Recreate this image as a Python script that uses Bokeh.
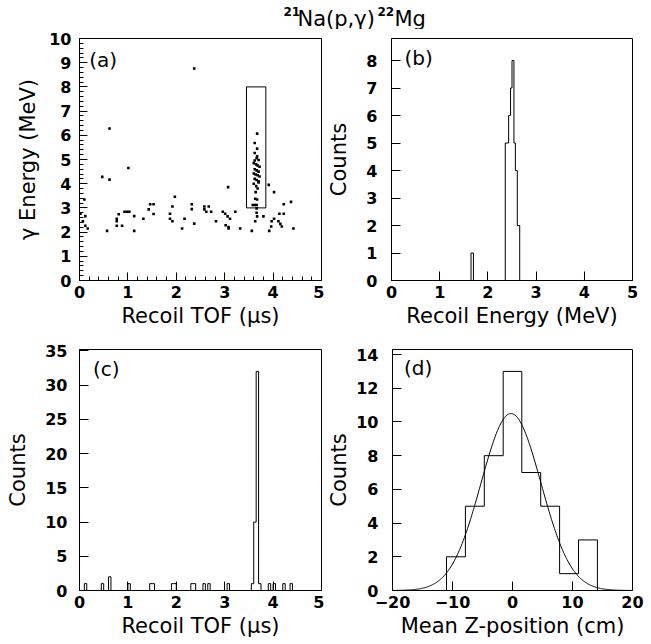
import numpy as np
from bokeh.plotting import figure
from bokeh.layouts import column, row
from bokeh.models import Range1d, SingleIntervalTicker, Label
from bokeh.core.properties import value
from bokeh.embed import file_html
from bokeh.resources import INLINE

# ---------------- data ----------------
# title pieces: (text, is_superscript)
title_parts = [("21", True), ("Na(p,γ)", False), ("22", True), ("Mg", False)]

# (a) gamma energy vs recoil TOF
a_tof = [2.37, 0.62, 1.01, 0.47, 0.62, 3.91, 4.02, 3.07, 1.97, 0.10,
         2.32, 2.32, 1.46, 1.53, 1.43, 1.92, 2.58, 2.67, 2.58, 2.62,
         2.72, 1.53, 4.22, 4.37, 0.02, 0.12, 0.81, 0.93, 0.98, 1.03,
         1.13, 1.32, 0.77, 0.77, 1.87, 1.87, 1.92, 2.17, 2.37, 2.12,
         0.77, 0.88, 0.57, 1.13, 0.12, 0.17, 0.07, 2.96, 3.01, 3.06,
         3.11, 3.22, 2.82, 3.02, 3.08, 3.08, 3.32, 3.56, 3.63, 3.67,
         3.80, 3.92, 3.96, 3.97, 4.02, 4.13, 4.22, 4.11, 4.15, 4.18,
         4.42, 3.66, 3.66,
         3.67, 3.62, 3.67, 3.62, 3.67, 3.62, 3.66, 3.70, 3.60, 3.65,
         3.68, 3.72, 3.62, 3.66, 3.70, 3.60, 3.64, 3.68, 3.72, 3.62,
         3.66, 3.70, 3.60, 3.65, 3.68, 3.63, 3.58, 3.62, 3.66, 3.67,
         3.70, 3.64]
a_egamma = [8.76, 6.28, 4.65, 4.28, 4.17, 3.95, 3.65, 3.86, 3.46, 3.35,
            3.15, 2.95, 3.15, 3.15, 2.94, 3.06, 3.06, 3.06, 2.94, 2.84,
            2.84, 2.75, 3.15, 3.25, 2.76, 2.66, 2.74, 2.84, 2.84, 2.84,
            2.66, 2.55, 2.55, 2.26, 2.76, 2.55, 2.45, 2.55, 2.35, 2.15,
            2.45, 2.26, 2.05, 2.05, 2.26, 2.15, 2.45, 2.84, 2.76, 2.65,
            2.55, 2.84, 2.45, 2.28, 2.21, 2.15, 2.15, 2.05, 2.45, 2.65,
            2.65, 2.05, 2.23, 2.45, 2.55, 2.76, 2.76, 2.45, 2.34, 2.23,
            2.15, 2.98, 2.80,
            6.07, 5.68, 5.45, 5.27, 5.13, 4.96, 5.05, 4.98, 4.85, 4.80,
            4.75, 4.70, 4.60, 4.55, 4.50, 4.42, 4.38, 4.35, 4.30, 4.20,
            4.15, 4.10, 4.00, 3.90, 3.80, 3.38, 3.12, 3.12, 3.12, 3.35,
            4.05, 3.65]
gate_tof = [3.45, 3.85]
gate_egamma = [3.0, 8.0]

# (b) recoil energy histogram (bin edges in MeV, counts)
b_edges = [1.65, 1.70, 2.36, 2.43, 2.47, 2.50, 2.54, 2.57, 2.61, 2.66]
b_counts = [1, 0, 5, 6, 7, 8, 5, 4, 2]

# (c) recoil TOF histogram: 0.05 us bins, non-empty bins only
c_bin_width = 0.05
c_bin_left = [0.10, 0.45, 0.60, 1.00, 1.45, 1.50, 1.90, 1.95, 2.30, 2.35,
              2.55, 2.65, 3.05, 3.55, 3.60, 3.65, 3.70, 3.90, 4.00, 4.20, 4.35]
c_counts = [1, 1, 2, 1, 1, 1, 1, 1, 1, 1,
            1, 1, 1, 1, 10, 32, 1, 1, 1, 1, 1]

# (d) mean Z-position histogram + gaussian fit
d_edges = [-11.0, -7.85, -4.7, -1.55, 1.55, 4.7, 7.85, 11.0, 14.15]
d_counts = [2, 5, 8, 13, 7, 5, 1, 3]
fit_amp, fit_mean, fit_sigma = 10.5, -0.25, 5.0

# ---------------- styling helpers ----------------
FONT = "DejaVu Sans"


def make_fig(w, h, xr, yr, left, right, top, bottom, xlabel, ylabel):
    p = figure(width=w, height=h, x_range=Range1d(*xr), y_range=Range1d(*yr),
               toolbar_location=None, output_backend="svg",
               min_border_left=left, min_border_right=right,
               min_border_top=top, min_border_bottom=bottom)
    p.grid.visible = False
    p.outline_line_color = "black"
    p.outline_line_width = 1
    p.background_fill_color = "white"
    p.border_fill_color = "white"
    p.xaxis.axis_label = xlabel
    p.yaxis.axis_label = ylabel
    for ax in (p.xaxis[0], p.yaxis[0]):
        ax.axis_line_color = "black"
        ax.major_tick_in = 9
        ax.major_tick_out = 0
        ax.minor_tick_in = 0
        ax.minor_tick_out = 0
        ax.major_tick_line_color = "black"
        ax.minor_tick_line_color = "black"
        ax.major_label_text_font = FONT
        ax.major_label_text_font_style = "bold"
        ax.major_label_text_font_size = "16px"
        ax.major_label_text_color = "black"
        ax.axis_label_text_font = FONT
        ax.axis_label_text_font_style = "normal"
        ax.axis_label_text_font_size = "21px"
        ax.axis_label_text_color = "black"
    p.xaxis.major_label_standoff = 5
    p.xaxis.axis_label_standoff = 3
    return p


def step_xy(edges, counts):
    xs = [edges[0]] + list(edges)
    ys = [0] + list(counts) + [0]
    return xs, ys


def panel_tag(p, x, y, txt):
    p.text(x=[x], y=[y], text=[txt], text_font=value(FONT),
           text_font_size="20px", text_baseline="middle", text_align="left",
           text_color="black")


# ---------------- title ----------------
TH = 29
pt = figure(width=651, height=TH, x_range=Range1d(0, 651), y_range=Range1d(0, TH),
            toolbar_location=None, output_backend="svg",
            x_axis_location=None, y_axis_location=None,
            min_border=0, min_border_left=0, min_border_right=0,
            min_border_top=0, min_border_bottom=0, title=None)
pt.grid.visible = False
pt.outline_line_color = None
pt.background_fill_color = "white"
pt.border_fill_color = "white"
title_x = [283, 297, 377, 394]
for (txt, sup), tx in zip(title_parts, title_x):
    pt.add_layout(Label(x=tx, y=18 if sup else 11, text=txt, text_font=FONT,
                        text_font_size="12px" if sup else "21px",
                        text_font_style="bold" if sup else "normal",
                        text_align="left", text_baseline="alphabetic",
                        text_color="black"))

# ---------------- (a) ----------------
ROW1_H = 644 - TH - 309
pa = make_fig(324, ROW1_H, (0, 5), (0, 10), 79, 3, 9, 55,
              "Recoil TOF (μs)", "γ Energy (MeV)")
pa.xaxis.ticker = SingleIntervalTicker(interval=1, num_minor_ticks=5)
pa.yaxis.ticker = SingleIntervalTicker(interval=1, num_minor_ticks=5)
pa.xaxis.minor_tick_in = 4
pa.yaxis.minor_tick_in = 4
pa.xaxis.major_tick_in = 8
pa.yaxis.major_tick_in = 8
pa.yaxis.major_label_standoff = 8
pa.yaxis.axis_label_standoff = 6
pa.scatter(a_tof, a_egamma, marker="square", size=2.6, fill_color="black",
           line_color=None)
pa.quad(left=[gate_tof[0]], right=[gate_tof[1]], bottom=[gate_egamma[0]],
        top=[gate_egamma[1]], fill_color=None, line_color="black", line_width=1)
panel_tag(pa, 0.2, 9.1, "(a)")

# ---------------- (b) ----------------
pb = make_fig(327, ROW1_H, (0, 5), (0, 8.8), 66, 19, 9, 55,
              "Recoil Energy (MeV)", "Counts")
pb.xaxis.ticker = SingleIntervalTicker(interval=1, num_minor_ticks=0)
pb.yaxis.ticker = SingleIntervalTicker(interval=1, num_minor_ticks=0)
pb.yaxis.major_label_standoff = 14
pb.yaxis.axis_label_standoff = 12
bx, by = step_xy(b_edges, b_counts)
pb.step(bx, by, mode="after", line_color="black", line_width=1)
panel_tag(pb, 0.27, 8.1, "(b)")

# ---------------- (c) ----------------
nbins = int(round(5 / c_bin_width))
c_full = np.zeros(nbins)
for left_edge, cnt in zip(c_bin_left, c_counts):
    c_full[int(round(left_edge / c_bin_width))] = cnt
c_edges = np.arange(nbins + 1) * c_bin_width

pc = make_fig(324, 309, (0, 5), (0, 35.2), 79, 3, 14, 54,
              "Recoil TOF (μs)", "Counts")
pc.xaxis.ticker = SingleIntervalTicker(interval=1, num_minor_ticks=0)
pc.yaxis.ticker = SingleIntervalTicker(interval=5, num_minor_ticks=0)
pc.yaxis.major_label_standoff = 12
pc.yaxis.axis_label_standoff = 12
cx, cy = step_xy(c_edges, c_full)
pc.step(cx, cy, mode="after", line_color="black", line_width=1)
panel_tag(pc, 0.28, 32.4, "(c)")

# ---------------- (d) ----------------
pd_ = make_fig(327, 309, (-20, 20), (0, 14.3), 66, 19, 14, 54,
               "Mean Z-position (cm)", "Counts")
pd_.xaxis.ticker = SingleIntervalTicker(interval=10, num_minor_ticks=0)
pd_.yaxis.ticker = SingleIntervalTicker(interval=2, num_minor_ticks=0)
pd_.yaxis.major_label_standoff = 14
pd_.yaxis.axis_label_standoff = 2
dx, dy = step_xy(d_edges, d_counts)
pd_.step(dx, dy, mode="after", line_color="black", line_width=1)
zz = np.linspace(-20, 20, 401)
pd_.line(zz, fit_amp * np.exp(-0.5 * ((zz - fit_mean) / fit_sigma) ** 2),
         line_color="black", line_width=1)
panel_tag(pd_, -18.1, 13.2, "(d)")

layout = column(pt, row(pa, pb), row(pc, pd_))
open("out.html", "w").write(file_html(layout, INLINE))
